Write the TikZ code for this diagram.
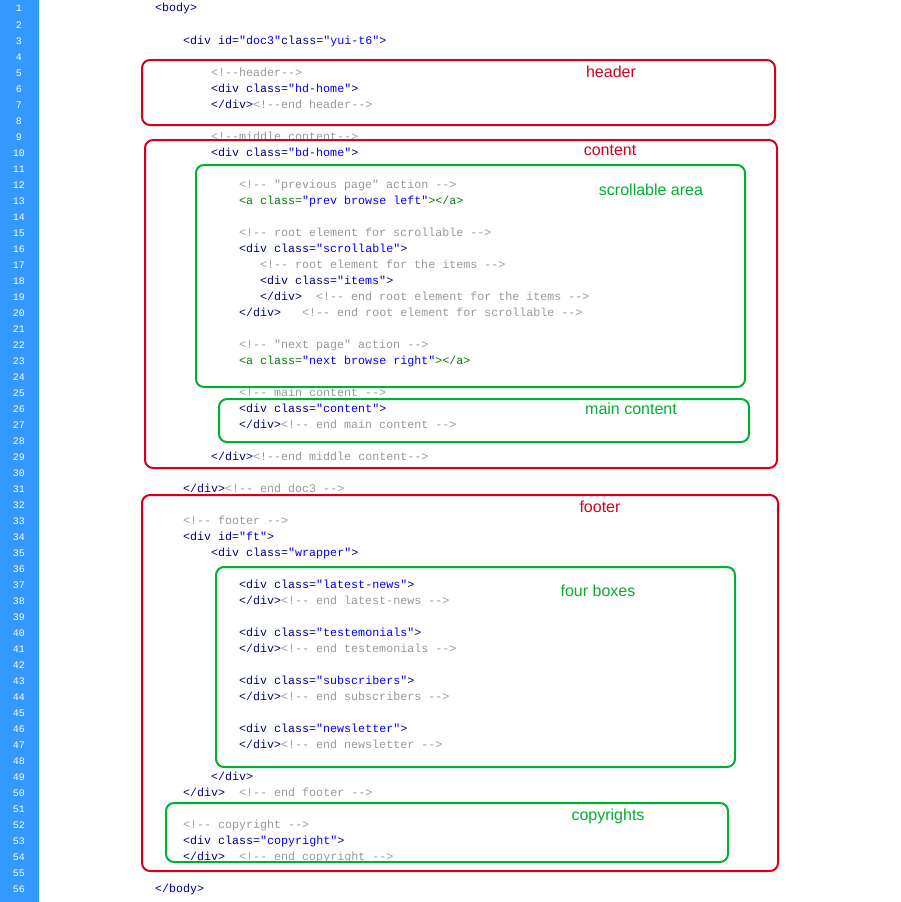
\documentclass[tikz,border=0pt]{standalone}
\usepackage{fontspec}
\setmainfont{Liberation Sans}
\setmonofont{Liberation Mono}
\definecolor{tagc}{HTML}{000080}
\definecolor{strc}{HTML}{0000FF}
\definecolor{comc}{HTML}{999999}
\definecolor{grc}{HTML}{008000}
\definecolor{barc}{HTML}{3399FF}
\definecolor{redc}{HTML}{D4001E}
\definecolor{greenc}{HTML}{00B030}
\newcommand\Tg[1]{\textcolor{tagc}{#1}}
\newcommand\St[1]{\textcolor{strc}{#1}}
\newcommand\Cm[1]{\textcolor{comc}{#1}}
\newcommand\Gr[1]{\textcolor{grc}{#1}}
\begin{document}
\begin{tikzpicture}[x=1pt,y=-1pt,
  code/.style={anchor=base west,inner sep=0pt,font=\ttfamily\fontsize{11.67}{12}\selectfont},
  lnum/.style={anchor=base,inner sep=0pt,text=white,font=\ttfamily\fontsize{10}{12}\selectfont},
  redbox/.style={draw=redc,line width=2pt,rounded corners=8pt},
  greenbox/.style={draw=greenc,line width=2pt,rounded corners=8pt},
  redlbl/.style={text=redc,font=\fontsize{16}{18}\selectfont},
  greenlbl/.style={text=greenc,font=\fontsize{16}{18}\selectfont}]
\useasboundingbox (0,0) rectangle (901,902);
\fill[white] (0,0) rectangle (901,902);
\fill[barc] (0,0) rectangle (39,902);
\foreach \n in {1,...,56}{\node[lnum] (n\n) at (19,{12+16*(\n-1)}) {\n};}
\newcommand\cl[3]{\node[code] (l#1) at (#2,{12+16*(#1-1)}) {#3};}
\cl{1}{155}{\Tg{<body>}}
\cl{3}{183}{\Tg{<div id=}\St{"doc3"}\Tg{ class=}\St{"yui-t6"}\Tg{>}}
\cl{5}{211}{\Cm{<!--header-->}}
\cl{6}{211}{\Tg{<div class=}\St{"hd-home"}\Tg{>}}
\cl{7}{211}{\Tg{</div>}\Cm{ <!--end header-->}}
\cl{9}{211}{\Cm{<!--middle content-->}}
\cl{10}{211}{\Tg{<div class=}\St{"bd-home"}\Tg{>}}
\cl{12}{239}{\Cm{<!-- "previous page" action -->}}
\cl{13}{239}{\Gr{<a class=}\St{"prev browse left"}\Gr{></a>}}
\cl{15}{239}{\Cm{<!-- root element for scrollable -->}}
\cl{16}{239}{\Tg{<div class=}\St{"scrollable"}\Tg{>}}
\cl{17}{260}{\Cm{<!-- root element for the items -->}}
\cl{18}{260}{\Tg{<div class=}\St{"items"}\Tg{>}}
\cl{19}{260}{\Tg{</div>}\Cm{\ \ <!-- end root element for the items -->}}
\cl{20}{239}{\Tg{</div>}\Cm{\ \ \ <!-- end root element for scrollable -->}}
\cl{22}{239}{\Cm{<!-- "next page" action -->}}
\cl{23}{239}{\Gr{<a class=}\St{"next browse right"}\Gr{></a>}}
\cl{25}{239}{\Cm{<!-- main content -->}}
\cl{26}{239}{\Tg{<div class=}\St{"content"}\Tg{>}}
\cl{27}{239}{\Tg{</div>}\Cm{ <!-- end main content -->}}
\cl{29}{211}{\Tg{</div>}\Cm{ <!--end middle content-->}}
\cl{31}{183}{\Tg{</div>}\Cm{ <!-- end doc3 -->}}
\cl{33}{183}{\Cm{<!-- footer -->}}
\cl{34}{183}{\Tg{<div id=}\St{"ft"}\Tg{>}}
\cl{35}{211}{\Tg{<div class=}\St{"wrapper"}\Tg{>}}
\cl{37}{239}{\Tg{<div class=}\St{"latest-news"}\Tg{>}}
\cl{38}{239}{\Tg{</div>}\Cm{ <!-- end latest-news -->}}
\cl{40}{239}{\Tg{<div class=}\St{"testemonials"}\Tg{>}}
\cl{41}{239}{\Tg{</div>}\Cm{ <!-- end testemonials -->}}
\cl{43}{239}{\Tg{<div class=}\St{"subscribers"}\Tg{>}}
\cl{44}{239}{\Tg{</div>}\Cm{ <!-- end subscribers -->}}
\cl{46}{239}{\Tg{<div class=}\St{"newsletter"}\Tg{>}}
\cl{47}{239}{\Tg{</div>}\Cm{ <!-- end newsletter -->}}
\cl{49}{211}{\Tg{</div>}}
\cl{50}{183}{\Tg{</div>}\Cm{\ \ <!-- end footer -->}}
\cl{52}{183}{\Cm{<!-- copyright -->}}
\cl{53}{183}{\Tg{<div class=}\St{"copyright"}\Tg{>}}
\cl{54}{183}{\Tg{</div>}\Cm{\ \ <!-- end copyright -->}}
\cl{56}{155}{\Tg{</body>}}
\draw[redbox] (142,60) rectangle (775,125);
\draw[redbox] (145,140) rectangle (777,468);
\draw[greenbox] (196,165) rectangle (745,387);
\draw[greenbox] (219,399) rectangle (749,442);
\draw[redbox] (142,495) rectangle (778,871);
\draw[greenbox] (216,567) rectangle (735,767);
\draw[greenbox] (166,803) rectangle (728,862);
\node[redlbl] (hl) at (611,72) {header};
\node[redlbl] (cl) at (610,150) {content};
\node[greenlbl] (sl) at (651,190) {scrollable area};
\node[greenlbl] (ml) at (631,409) {main content};
\node[redlbl] (fl) at (600,507) {footer};
\node[greenlbl] (bl) at (598,591) {four boxes};
\node[greenlbl] (yl) at (608,816) {copyrights};
\end{tikzpicture}
\end{document}
